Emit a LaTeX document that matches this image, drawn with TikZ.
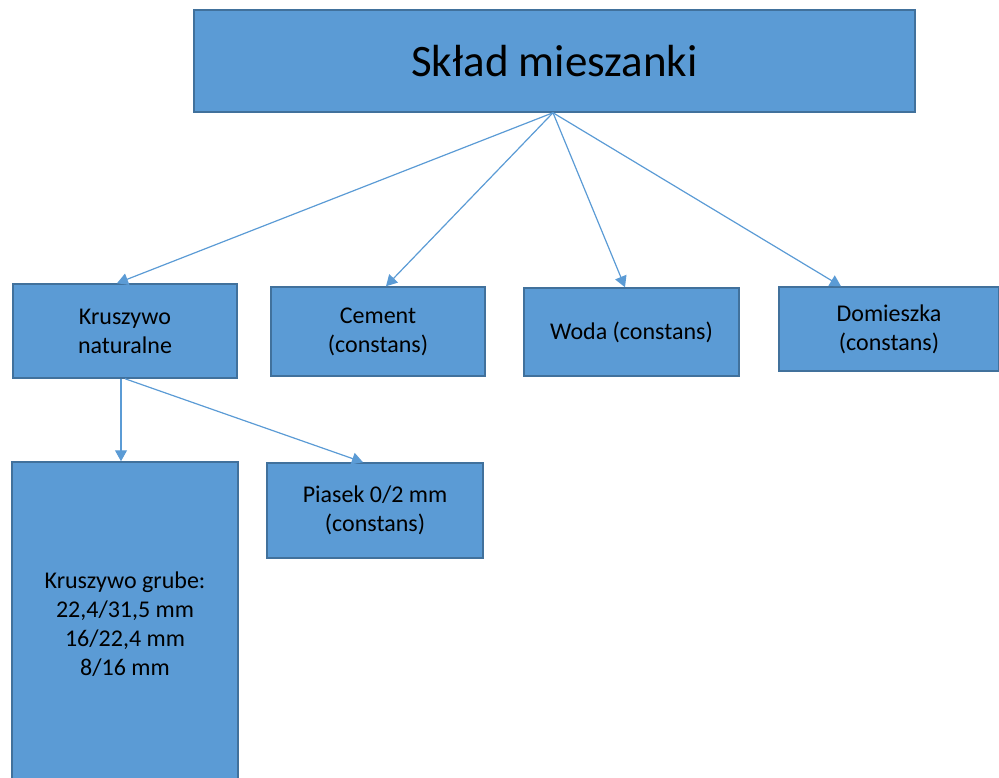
\documentclass[tikz,border=0pt]{standalone}
\usepackage{fontspec}
\setmainfont{Carlito}
\usetikzlibrary{calc,arrows.meta}
\definecolor{boxfill}{HTML}{5B9BD5}
\definecolor{boxline}{HTML}{41719C}
\definecolor{arrowc}{HTML}{5B9BD5}
\tikzset{
  boxnode/.style={draw=boxline, fill=boxfill, line width=1.5pt, rectangle, inner sep=0pt, align=center, text=black,
    font=\fontsize{24}{29}\selectfont},
  conn/.style={draw=arrowc, line width=1.2pt, -{Triangle[length=11pt,width=12pt]}}
}
\begin{document}
\begin{tikzpicture}[x=1pt,y=-1pt]
\useasboundingbox (0,0) rectangle (999,778);
\node[boxnode, minimum width=721pt, minimum height=102pt, font=\fontsize{45}{52}\selectfont] (top) at (554.5,61) {Skład mieszanki};
\node[boxnode, minimum width=224pt, minimum height=94pt] (kn) at (125,331) {Kruszywo\\naturalne};
\node[boxnode, minimum width=214pt, minimum height=89pt] (cem) at (378,331.5) {Cement\\(constans)};
\node[boxnode, minimum width=215pt, minimum height=88pt] (woda) at (631.5,332) {Woda (constans)};
\node[boxnode, minimum width=220pt, minimum height=84pt] (dom) at (889,329) {Domieszka\\(constans)};
\node[boxnode, minimum width=226pt, minimum height=324pt] (kg) at (125,624) {Kruszywo grube:\\22,4/31,5 mm\\16/22,4 mm\\8/16 mm};
\node[boxnode, minimum width=216pt, minimum height=95pt] (pia) at (375,510.5) {Piasek 0/2 mm\\(constans)};
\draw[conn] ($(top.south)+(-1.5,0)$) -- ($(kn.north)+(-8,0)$);
\draw[conn] ($(top.south)+(-1.5,0)$) -- ($(cem.north)+(8,0)$);
\draw[conn] ($(top.south)+(-1.5,0)$) -- ($(woda.north)+(-6.5,0)$);
\draw[conn] ($(top.south)+(-1.5,0)$) -- ($(dom.north)+(-48,0)$);
\draw[conn] ($(kn.south)+(-4,0)$) -- ($(kg.north)+(-4,0)$);
\draw[conn] (kn.south) -- ($(pia.north)+(-12,0)$);
\end{tikzpicture}
\end{document}
